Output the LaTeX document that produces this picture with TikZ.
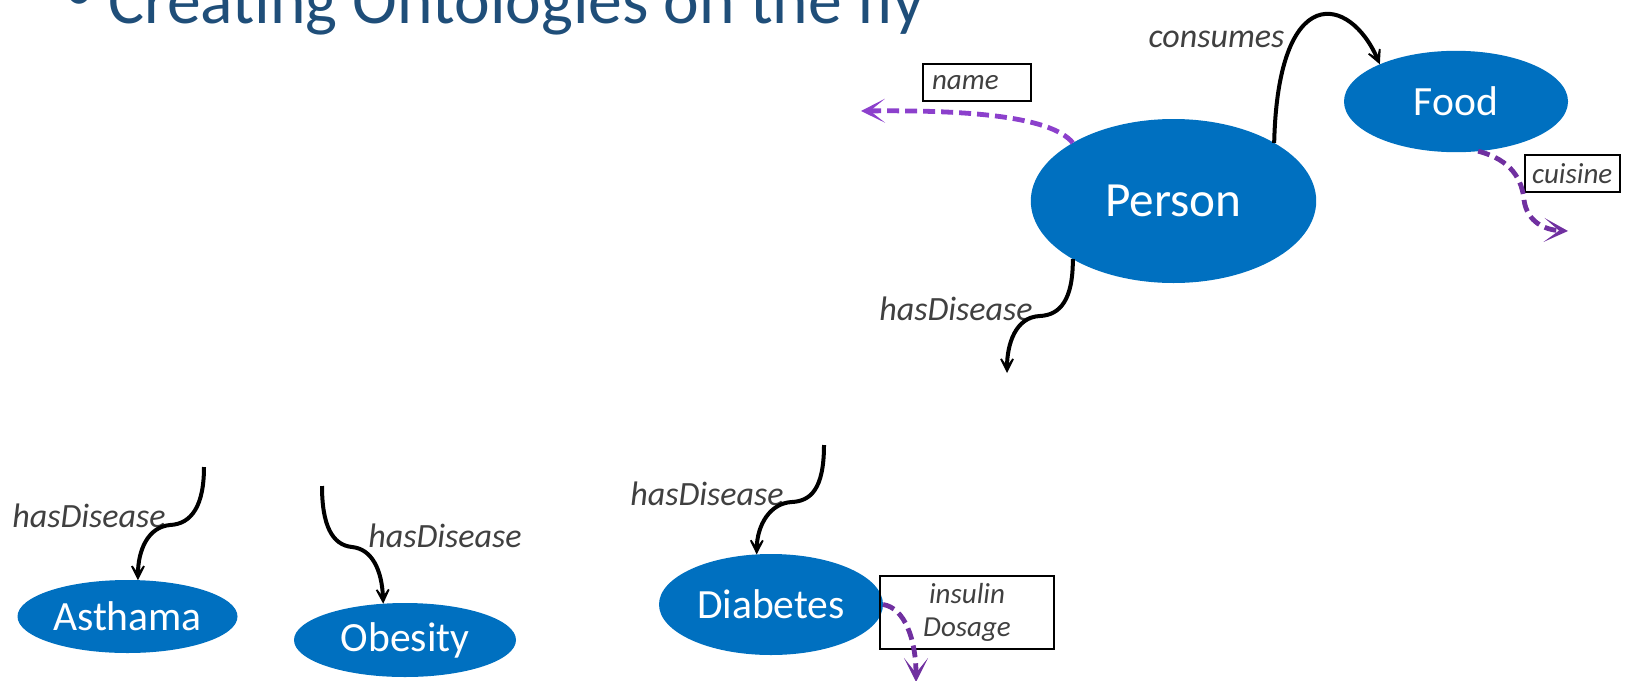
\documentclass[tikz,border=0pt]{standalone}
\usepackage{fontspec}
\setmainfont{Carlito}
\usetikzlibrary{arrows.meta,shapes.geometric}
\definecolor{titleblue}{RGB}{31,78,121}
\definecolor{nodeblue}{RGB}{0,112,192}
\definecolor{purpleA}{RGB}{140,64,204}
\definecolor{purpleB}{RGB}{112,48,160}
\definecolor{labelgray}{RGB}{64,64,64}
\begin{document}
\begin{tikzpicture}[x=0.5pt, y=-0.5pt,
  concept/.style={ellipse, fill=nodeblue, text=white, inner sep=0pt, outer sep=0pt,
    font=\fontsize{20.8pt}{24pt}\selectfont},
  rel/.style={font=\fontsize{17pt}{20pt}\selectfont\itshape, text=labelgray, inner sep=0pt},
  attrbox/.style={draw=black, line width=0.7pt, font=\fontsize{14.5pt}{16.5pt}\selectfont\itshape,
    text=labelgray, inner ysep=0pt, minimum height=18.5pt, outer sep=0pt},
  relarrow/.style={draw=black, line width=2pt, -{Stealth[length=12pt, width=12pt, inset=8.5pt]}},
  attrarrow/.style={line width=2.4pt, dash pattern=on 6pt off 3pt,
    -{Stealth[length=12pt, width=12pt, inset=7.5pt]}},
  titlefont/.style={inner sep=0pt, text=titleblue, font=\fontsize{33.8pt}{40pt}\selectfont}
]
\useasboundingbox (0,0) rectangle (1625,680);
\clip (0,0) rectangle (1625,680);

% title
\node[titlefont, anchor=base west] (title) at (108,23) {Creating Ontologies on the fly};
\node[titlefont, anchor=base, font=\fontsize{30pt}{36pt}\selectfont] (bullet) at (79.5,10.5) {•};

% concepts
\node[concept, minimum width=142.7pt, minimum height=82pt, font=\fontsize{24.6pt}{28pt}\selectfont] (person) at (1173.5,201) {Person};
\node[concept, minimum width=112pt, minimum height=50.7pt] (food) at (1456,101.5) {Food};
\node[concept, minimum width=110pt, minimum height=36.5pt] (asthama) at (127.5,616.5) {Asthama};
\node[concept, minimum width=111pt, minimum height=37pt] (obesity) at (405,640) {Obesity};
\node[concept, minimum width=112pt, minimum height=50.5pt] (diabetes) at (771,604.5) {Diabetes};

% attribute boxes
\node[attrbox, text width=45pt, inner xsep=4.5pt, align=left] (namebox) at (977,82.5) {name};
\node[attrbox, text width=40.5pt, inner xsep=3.5pt, align=left] (cuisinebox) at (1572.5,173.5) {cuisine};
\node[attrbox, minimum width=87pt, minimum height=36.5pt, align=center] (insulinbox) at (967,612.5) {insulin\\Dosage};

% relation labels
\node[rel, anchor=base] (lconsumes) at (1216.5,47) {consumes};
\node[rel, anchor=base] (lpd) at (956,320) {hasDisease};
\node[rel, anchor=base] (lad) at (89,527) {hasDisease};
\node[rel, anchor=base] (lod) at (445,547) {hasDisease};
\node[rel, anchor=base] (ldd) at (707,505) {hasDisease};

% free ends
\coordinate (nameend) at (861,111);
\coordinate (cuisineend) at (1568,231);
\coordinate (dosageend) at (916,682);
\coordinate (pdend) at (1007,373);
\coordinate (adstart) at (204,467);
\coordinate (odstart) at (322,486);
\coordinate (ddstart) at (824,445);

% connectors
\draw[relarrow] (person.30) .. controls (1278,-20) and (1350,-5) .. (food.154);
\draw[attrarrow, purpleA] (person.150) .. controls (1050,115) and (960,110) .. (nameend);
\draw[attrarrow, purpleB] (food.-66) .. controls (1512,160) and (1522,180) .. (1524,200)
  .. controls (1527,222) and (1545,230) .. (cuisineend);
\draw[attrarrow, purpleB] (diabetes.east) .. controls (905,608) and (916,640) .. (dosageend);
\draw[relarrow] (person.210) .. controls (1073,300) and (1060,315) .. (1040,316)
  .. controls (1015,317) and (1007,345) .. (pdend);
\draw[relarrow] (adstart) .. controls (204,505) and (192,524) .. (170,525)
  .. controls (148,527) and (138,550) .. (asthama.74);
\draw[relarrow] (odstart) .. controls (322,525) and (332,545) .. (352,547)
  .. controls (372,549) and (382,570) .. (obesity.121);
\draw[relarrow] (ddstart) .. controls (824,490) and (810,501) .. (792,502)
  .. controls (770,503) and (757,525) .. (diabetes.106);
\end{tikzpicture}
\end{document}
